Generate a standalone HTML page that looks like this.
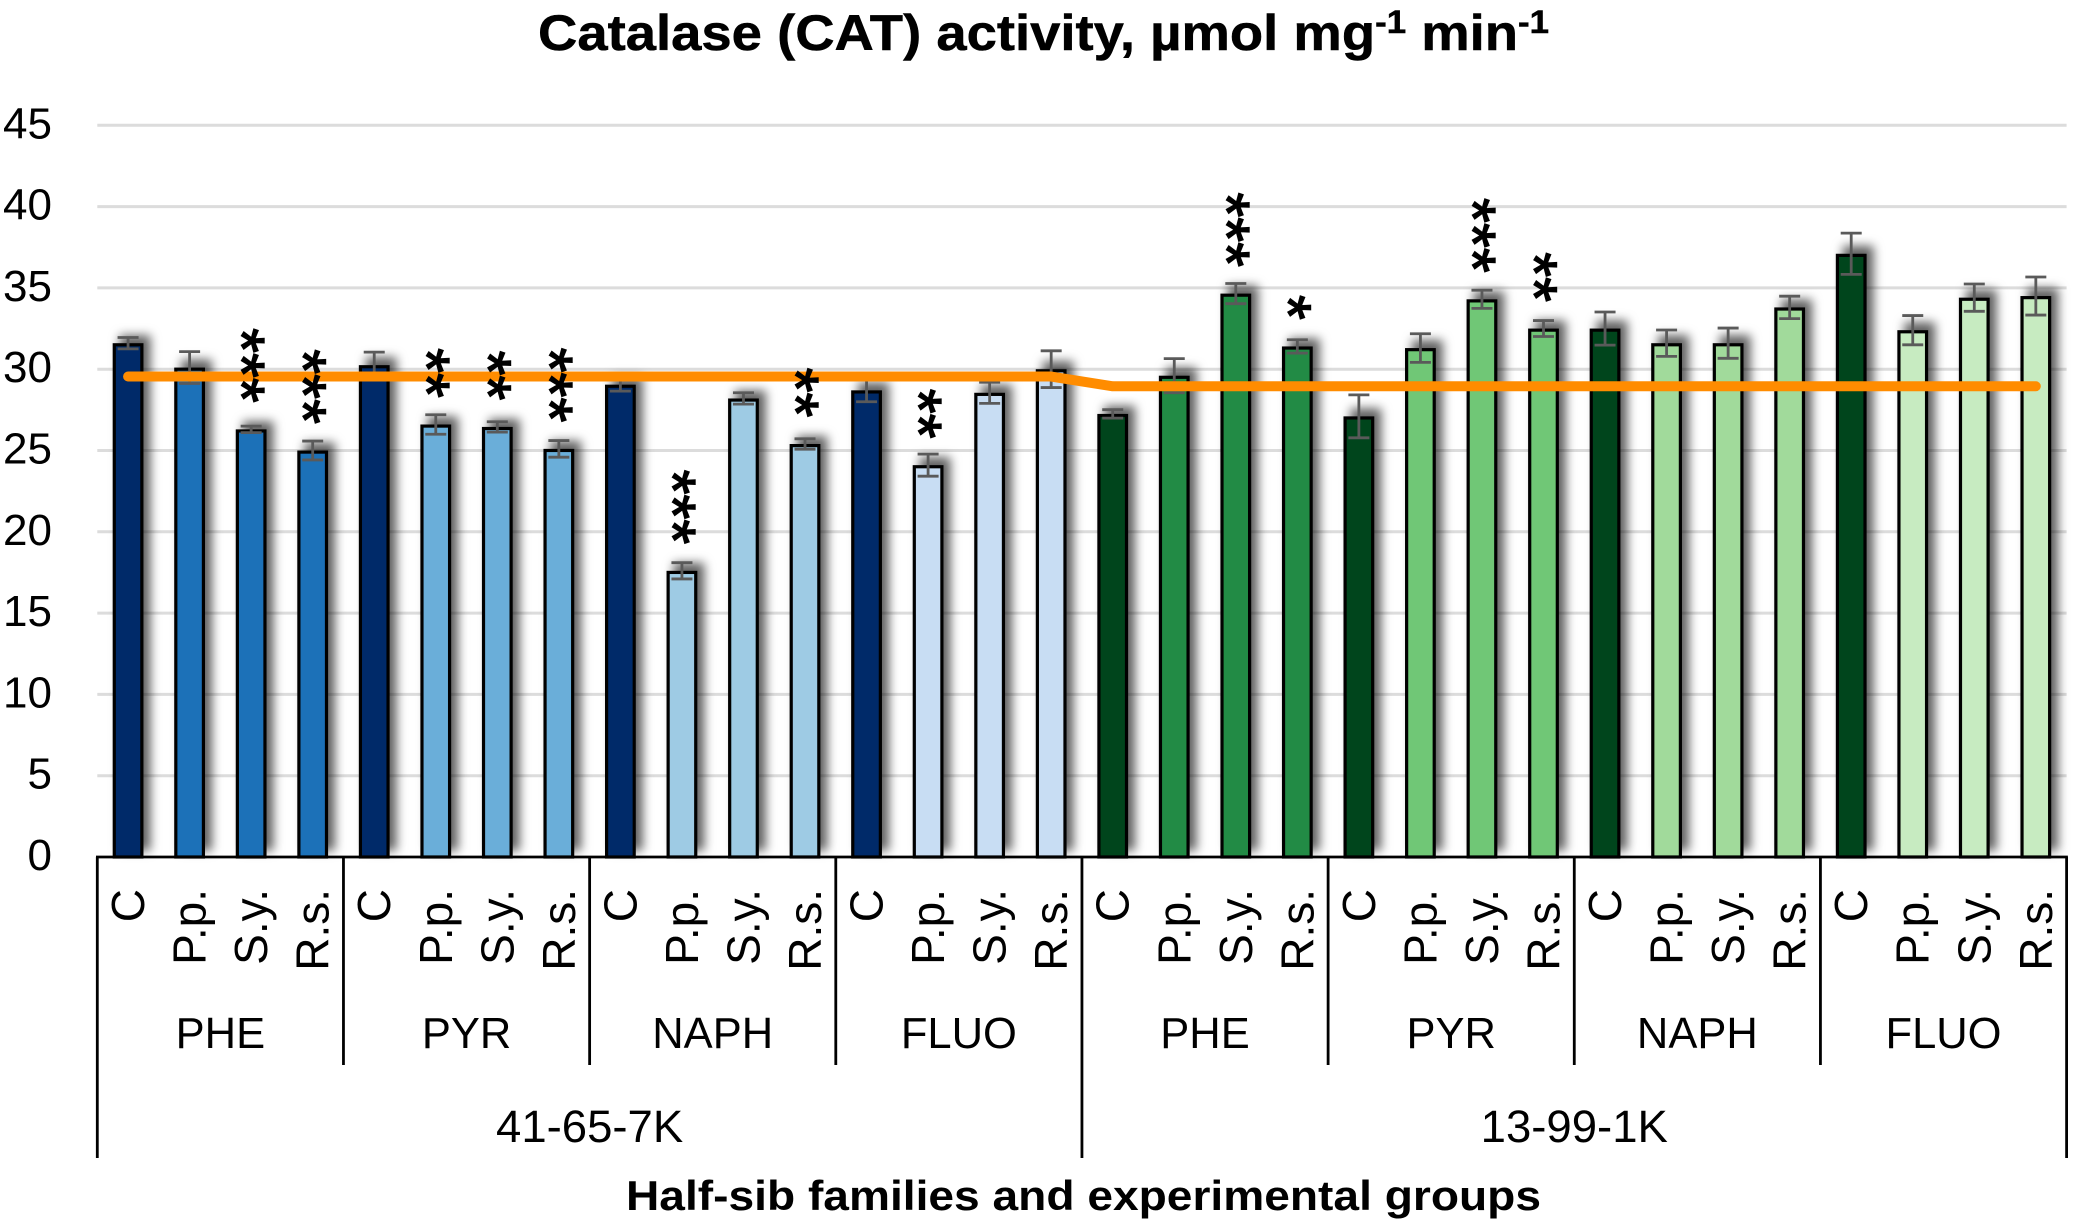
<!DOCTYPE html>
<html lang="en">
<head>
<meta charset="utf-8">
<title>Catalase (CAT) activity</title>
<style>
  html, body { margin: 0; padding: 0; background: #fff; }
  svg { display: block; font-family: "Liberation Sans", Arial, sans-serif; }
</style>
</head>
<body>
<svg id="chart" xmlns="http://www.w3.org/2000/svg" width="2077" height="1226" viewBox="0 0 2077 1226">
  <defs>
    <filter id="bar-shadow" x="-70%" y="-15%" width="260%" height="130%">
      <feDropShadow dx="7" dy="-8" stdDeviation="5" flood-color="#000" flood-opacity="0.62"/>
    </filter>
  </defs>
  <rect width="2077" height="1226" fill="#ffffff"/>
  <text x="538" y="50" font-size="50" font-weight="700" fill="#000" stroke="#000" stroke-width="0.5" textLength="1011" lengthAdjust="spacingAndGlyphs">Catalase (CAT) activity, µmol mg<tspan font-size="32" dy="-17">-1</tspan><tspan dy="17"> min</tspan><tspan font-size="32" dy="-17">-1</tspan></text>
  <g id="grid-layer"></g>
  <g id="bar-layer"></g>
  <g id="error-layer"></g>
  <g id="mean-layer"></g>
  <g id="star-layer"></g>
  <g id="axis-layer"></g>
  <text x="626" y="1210" font-size="42" font-weight="700" fill="#000" textLength="915" lengthAdjust="spacingAndGlyphs">Half-sib families and experimental groups</text>
</svg>
<script>
// ---- chart data ----
const yTicks = [0, 5, 10, 15, 20, 25, 30, 35, 40, 45];
const treatments = ["C", "P.p.", "S.y.", "R.s."];
const pollutants = ["PHE", "PYR", "NAPH", "FLUO"];
const families = ["41-65-7K", "13-99-1K"];
const values = [
  31.6, 30.1, 26.3, 25.0,  30.25, 26.6, 26.45, 25.1,  29.05, 17.6, 28.2, 25.4,  28.7, 24.1, 28.55, 30.0,
  27.25, 29.6, 34.65, 31.4,  27.1, 31.3, 34.3, 32.5,  32.5, 31.6, 31.6, 33.8,  37.1, 32.4, 34.4, 34.5
];
const errors = [
  0.35, 0.98, 0.2, 0.58,  0.8, 0.6, 0.32, 0.51,  0.4, 0.5, 0.35, 0.32,  0.7, 0.68, 0.65, 1.13,
  0.26, 1.05, 0.62, 0.41,  1.32, 0.88, 0.56, 0.49,  1.02, 0.81, 0.93, 0.69,  1.27, 0.9, 0.84, 1.17
];
const stars = [
  0, 0, 3, 3,  0, 2, 2, 3,  0, 3, 0, 2,  0, 2, 0, 0,
  0, 0, 3, 1,  0, 0, 3, 2,  0, 0, 0, 0,  0, 0, 0, 0
];
const meanValues = [
  29.55, 29.55, 29.55, 29.55, 29.55, 29.55, 29.55, 29.55, 29.55, 29.55, 29.55, 29.55, 29.55, 29.55, 29.55, 29.55,
  28.95, 28.95, 28.95, 28.95, 28.95, 28.95, 28.95, 28.95, 28.95, 28.95, 28.95, 28.95, 28.95, 28.95, 28.95, 28.95
];
// ---- palette ----
const controlColors = ["#042C69", "#00441B"];
const pollutantColors = [
  ["#1F71B8", "#6BAED9", "#9ECBE4", "#C8DDF3"],
  ["#238B45", "#70C776", "#A1DA9B", "#C7EBC1"]
];

const NS = "http://www.w3.org/2000/svg";
const plotLeft = 97.3, plotRight = 2066.6, y0 = 857, pxPerUnit = 16.26;
const bandWidth = (plotRight - plotLeft) / values.length;
function xBand(i) { return plotLeft + bandWidth * i; }
function xCenter(i) { return xBand(i + 0.5); }
function yScale(v) { return y0 - v * pxPerUnit; }
function make(tag, parent, attrs) {
  const el = document.createElementNS(NS, tag);
  for (const k in attrs) el.setAttribute(k, attrs[k]);
  parent.appendChild(el);
  return el;
}
const gridLayer = document.getElementById("grid-layer");
const barLayer = document.getElementById("bar-layer");
const errorLayer = document.getElementById("error-layer");
const meanLayer = document.getElementById("mean-layer");
const starLayer = document.getElementById("star-layer");
const axisLayer = document.getElementById("axis-layer");

// gridlines + y tick labels
yTicks.forEach(function (t) {
  if (t !== 0) {
    const g = make("line", gridLayer, { x1: plotLeft, x2: plotRight, y1: yScale(t), y2: yScale(t), stroke: "#DCDCDC", "stroke-width": 3 });
    
    
  }
  const lbl = make("text", axisLayer, { x: 52, y: yScale(t) + 13, "font-size": 44, "text-anchor": "end", fill: "#000" });
  lbl.textContent = t;
  
  
});

// bars, error bars, stars
values.forEach(function (v, i) {
  const fam = i < 16 ? 0 : 1;
  const pol = Math.floor(i / 4) % 4;
  const trt = i % 4;
  const fill = trt === 0 ? controlColors[fam] : pollutantColors[fam][pol];
  const cx = xCenter(i);
  const top = yScale(v) + 1.6;
  const bar = make("rect", barLayer, { x: cx - 13.8, y: top, width: 27.6, height: y0 - top, fill: fill, stroke: "#000", "stroke-width": 3.2, filter: "url(#bar-shadow)" });
  
  

  const e = errors[i];
  const eg = make("path", errorLayer, {
    d: "M" + cx + " " + yScale(v + e) + "V" + yScale(v - e) +
       "M" + (cx - 10.5) + " " + yScale(v + e) + "H" + (cx + 10.5) +
       "M" + (cx - 10.5) + " " + yScale(v - e) + "H" + (cx + 10.5),
    fill: "none", stroke: "#5A5A5A", "stroke-width": 2.8
  });
  
  

  const n = stars[i];
  if (n > 0) {
    const fs = 64, adv = fs * 0.389;
    const oy = yScale(v) - 39 - (n - 0.5) * adv;
    const ox = cx + 5.5 - fs * 0.57;
    const st = make("text", starLayer, { "font-size": fs, fill: "#000", stroke: "#000", "stroke-width": 1.4, transform: "translate(" + ox + " " + oy + ") rotate(90)" });
    st.textContent = "*".repeat(n);
    
    
  }

  const cat = make("text", axisLayer, { "font-size": 46, "text-anchor": "end", fill: "#000", transform: "translate(" + (cx + 16) + " 889) rotate(-90)" });
  cat.textContent = treatments[trt];
  
  
});

// mean line
const meanPts = meanValues.map(function (m, i) { return xCenter(i) + "," + yScale(m); }).join(" ");
const meanLine = make("polyline", meanLayer, { points: meanPts, fill: "none", stroke: "#FF8C00", "stroke-width": 10, "stroke-linecap": "round", "stroke-linejoin": "round" });



// axes and multi-level category separators
const axisLine = make("line", axisLayer, { x1: plotLeft - 1.3, x2: plotRight + 1.3, y1: y0, y2: y0, stroke: "#000", "stroke-width": 2.8 });


for (let k = 0; k <= 8; k++) {
  const xk = xBand(k * 4);
  const major = k % 4 === 0;
  const sep = make("line", axisLayer, { x1: xk, x2: xk, y1: y0, y2: major ? 1158 : 1065, stroke: "#000", "stroke-width": 2.8 });
  
  
}
for (let k = 0; k < 8; k++) {
  const pl = make("text", axisLayer, { x: xBand(k * 4 + 2), y: 1048, "font-size": 43.5, "text-anchor": "middle", fill: "#000" });
  pl.textContent = pollutants[k % 4];
  
  
}
families.forEach(function (f, k) {
  const fl = make("text", axisLayer, { x: xBand(k * 16 + 8), y: 1142, "font-size": 45.5, "text-anchor": "middle", fill: "#000" });
  fl.textContent = f;
  
  
});
</script>
</body>
</html>
